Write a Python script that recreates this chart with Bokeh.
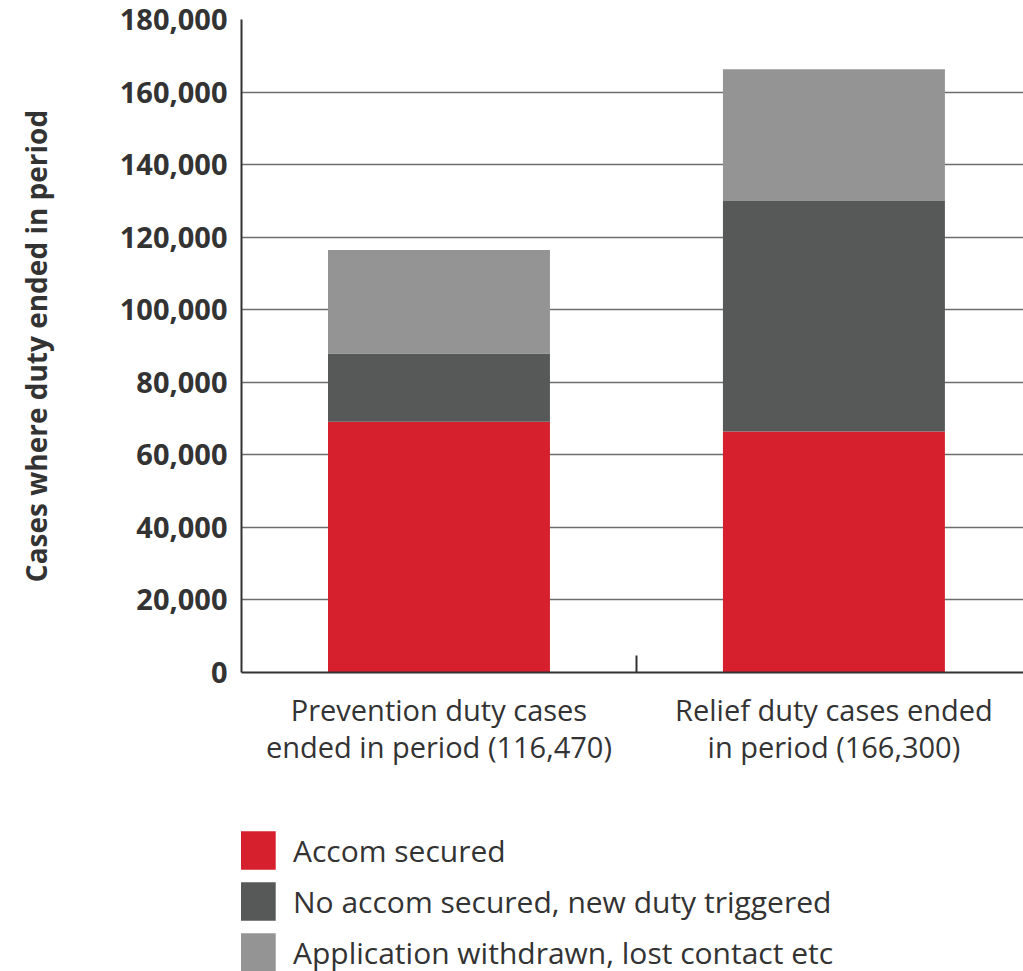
from bokeh.plotting import figure
from bokeh.layouts import column
from bokeh.models import (Range1d, FixedTicker, NumeralTickFormatter, Legend, LegendItem,
                          ColumnDataSource)
from bokeh.embed import file_html
from bokeh.resources import INLINE

# ---- data ----
categories = ["Prevention duty cases\nended in period (116,470)",
              "Relief duty cases ended\nin period (166,300)"]
x_pos = [0.5, 1.5]
accom_secured = [69100, 66400]
no_accom_new_duty = [18800, 63600]
withdrawn_lost_contact = [28570, 36300]
series_names = ["Accom secured", "No accom secured, new duty triggered",
                "Application withdrawn, lost contact etc"]
series_keys = ["accom", "noaccom", "withdrawn"]
colors = ["#D6202E", "#575958", "#939493"]
y_ticks = [0, 20000, 40000, 60000, 80000, 100000, 120000, 140000, 160000, 180000]

FONT = "Open Sans"
TXT = "#333333"

source = ColumnDataSource(dict(x=x_pos, accom=accom_secured, noaccom=no_accom_new_duty,
                               withdrawn=withdrawn_lost_contact))

p = figure(width=1023, height=826, output_backend="svg", toolbar_location=None,
           x_range=Range1d(0, 1.98), y_range=Range1d(0, 180000),
           min_border_left=241, min_border_top=19, min_border_right=0, min_border_bottom=154)
p.outline_line_color = None

p.vbar_stack(series_keys, x="x", width=0.562, color=colors, source=source, line_color=None)

# y axis
yax = p.yaxis[0]
yax.ticker = FixedTicker(ticks=y_ticks)
yax.formatter = NumeralTickFormatter(format="0,0")
yax.major_label_text_font = FONT
yax.major_label_text_font_style = "bold"
yax.major_label_text_font_size = "29px"
yax.major_label_text_color = TXT
yax.major_tick_out = 0
yax.major_tick_in = 0
yax.minor_tick_out = 0
yax.minor_tick_in = 0
yax.major_label_standoff = 14
yax.axis_line_color = "#333333"
yax.axis_line_width = 2
yax.axis_label = "Cases where duty ended in period"
yax.axis_label_text_font = FONT
yax.axis_label_text_font_style = "bold"
yax.axis_label_text_font_size = "28px"
yax.axis_label_text_color = TXT
yax.axis_label_standoff = 62

# x axis
xax = p.xaxis[0]
xax.ticker = FixedTicker(ticks=x_pos, minor_ticks=[1.0])
xax.major_label_overrides = {x_pos[0]: categories[0], x_pos[1]: categories[1]}
xax.major_label_text_font = FONT
xax.major_label_text_font_size = "29px"
xax.major_label_text_color = TXT
xax.major_label_text_line_height = 0.95
xax.major_tick_in = 0
xax.major_tick_out = 0
xax.minor_tick_in = 17
xax.minor_tick_out = 0
xax.minor_tick_line_color = "#333333"
xax.minor_tick_line_width = 2
xax.axis_line_color = "#333333"
xax.axis_line_width = 2
xax.major_label_standoff = 17

p.xgrid.visible = False
p.ygrid.ticker = FixedTicker(ticks=y_ticks)
p.ygrid.grid_line_color = "#6d6d6d"
p.ygrid.grid_line_width = 1.5

# ---- legend strip under the chart ----
lg = figure(width=1023, height=145, output_backend="svg", toolbar_location=None,
            x_axis_location=None, y_axis_location=None,
            min_border_left=0, min_border_right=0, min_border_top=0, min_border_bottom=0)
lg.outline_line_color = None
lg.grid.visible = False
lg_renderers = lg.vbar_stack(series_keys, x="x", width=0.562, color=colors, source=source,
                             line_color=None)
for r in lg_renderers:
    r.visible = False

legend = Legend(items=[LegendItem(label=n, renderers=[r]) for n, r in zip(series_names, lg_renderers)],
                location=(-9, -5), orientation="vertical",
                glyph_width=48, glyph_height=48, spacing=3, padding=0, margin=0,
                label_standoff=13, label_text_font=FONT, label_text_font_size="30px",
                label_text_color=TXT, border_line_alpha=0, background_fill_alpha=0,
                inactive_fill_alpha=0, click_policy="none")
lg.add_layout(legend, "center")

layout = column(p, lg, spacing=0)
open("out.html", "w").write(file_html(layout, INLINE))
